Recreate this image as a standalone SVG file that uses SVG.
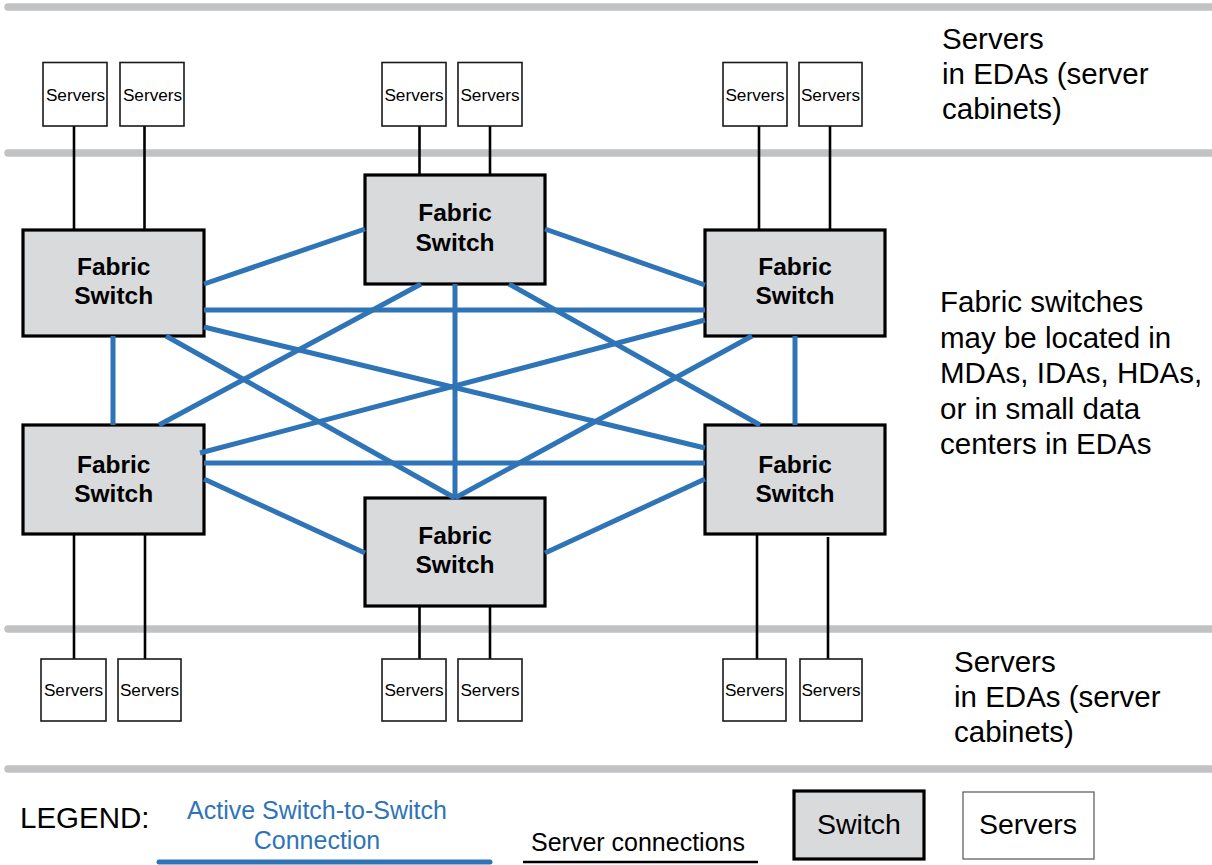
<svg xmlns="http://www.w3.org/2000/svg" width="1212" height="865" viewBox="0 0 1212 865">
  <defs>
    <style>
      .band { stroke: #c1c2c4; stroke-width: 7.5; stroke-linecap: round; fill: none; }
      .srv { fill: #ffffff; stroke: #1a1a1a; stroke-width: 1.6; }
      .sw { fill: #d9dadc; stroke: #000000; stroke-width: 3.2; }
      .srv-t { font-family: "Liberation Sans", Arial, sans-serif; font-size: 17.2px; fill: #000; text-anchor: middle; }
      .sw-t { font-family: "Liberation Sans", Arial, sans-serif; font-size: 24.5px; font-weight: bold; fill: #000; text-anchor: middle; }
      .note { font-family: "Liberation Sans", Arial, sans-serif; font-size: 29.5px; fill: #000; }
      .link { stroke: #2e74b7; stroke-width: 5; fill: none; }
      .wire { stroke: #000; stroke-width: 2.6; fill: none; }
    </style>
  </defs>
  <rect width="1212" height="865" fill="#ffffff"/>

  <!-- zone separators -->
  <g id="bands">
    <line class="band" x1="8" y1="7" x2="1220" y2="7"/>
    <line class="band" x1="8" y1="153" x2="1220" y2="153"/>
    <line class="band" x1="8" y1="629" x2="1220" y2="629"/>
    <line class="band" x1="8" y1="769" x2="1220" y2="769"/>
  </g>

  <!-- server uplinks (drawn over the bands) -->
  <g id="server-links">
    <line class="wire" x1="74" y1="126" x2="74" y2="230"/>
    <line class="wire" x1="144.5" y1="126" x2="144.5" y2="230"/>
    <line class="wire" x1="419.5" y1="126" x2="419.5" y2="175"/>
    <line class="wire" x1="490" y1="126" x2="490" y2="175"/>
    <line class="wire" x1="759" y1="126" x2="759" y2="230"/>
    <line class="wire" x1="830" y1="126" x2="830" y2="230"/>
    <line class="wire" x1="74" y1="534" x2="74" y2="659"/>
    <line class="wire" x1="145" y1="532" x2="145" y2="659"/>
    <line class="wire" x1="419.5" y1="606" x2="419.5" y2="659"/>
    <line class="wire" x1="490" y1="606" x2="490" y2="659"/>
    <line class="wire" x1="757" y1="534" x2="757" y2="659"/>
    <line class="wire" x1="828" y1="537" x2="828" y2="659"/>
  </g>

  <!-- server cabinets, top row -->
  <g id="srv-t1"><rect class="srv" x="43" y="62.5" width="64" height="63.5"/><text class="srv-t" x="75.5" y="100.5">Servers</text></g>
  <g id="srv-t2"><rect class="srv" x="120" y="62.5" width="64" height="63.5"/><text class="srv-t" x="152.5" y="100.5">Servers</text></g>
  <g id="srv-t3"><rect class="srv" x="382" y="62.5" width="64" height="63.5"/><text class="srv-t" x="414" y="100.5">Servers</text></g>
  <g id="srv-t4"><rect class="srv" x="458" y="62.5" width="64" height="63.5"/><text class="srv-t" x="490" y="100.5">Servers</text></g>
  <g id="srv-t5"><rect class="srv" x="723" y="62.5" width="64" height="63.5"/><text class="srv-t" x="755" y="100.5">Servers</text></g>
  <g id="srv-t6"><rect class="srv" x="799" y="62.5" width="63" height="63.5"/><text class="srv-t" x="830.5" y="100.5">Servers</text></g>

  <!-- server cabinets, bottom row -->
  <g id="srv-b1"><rect class="srv" x="41" y="659" width="65" height="62"/><text class="srv-t" x="73.5" y="696">Servers</text></g>
  <g id="srv-b2"><rect class="srv" x="118" y="659" width="63" height="62"/><text class="srv-t" x="149.5" y="696">Servers</text></g>
  <g id="srv-b3"><rect class="srv" x="382" y="659" width="64" height="62"/><text class="srv-t" x="414" y="696">Servers</text></g>
  <g id="srv-b4"><rect class="srv" x="458" y="659" width="64" height="62"/><text class="srv-t" x="490" y="696">Servers</text></g>
  <g id="srv-b5"><rect class="srv" x="723" y="659" width="63" height="62"/><text class="srv-t" x="754.5" y="696">Servers</text></g>
  <g id="srv-b6"><rect class="srv" x="800" y="659" width="62" height="62"/><text class="srv-t" x="831" y="696">Servers</text></g>

  <!-- fabric switches -->
  <g id="sw-tl"><rect class="sw" x="23" y="230" width="181" height="106"/><text class="sw-t" x="113.7" y="274.5">Fabric</text><text class="sw-t" x="113.7" y="304.3">Switch</text></g>
  <g id="sw-tm"><rect class="sw" x="365" y="175" width="180" height="109"/><text class="sw-t" x="455" y="221">Fabric</text><text class="sw-t" x="455" y="251">Switch</text></g>
  <g id="sw-tr"><rect class="sw" x="705" y="230" width="180" height="106"/><text class="sw-t" x="795" y="274.5">Fabric</text><text class="sw-t" x="795" y="304.3">Switch</text></g>
  <g id="sw-bl"><rect class="sw" x="23" y="425" width="181" height="109"/><text class="sw-t" x="113.7" y="473">Fabric</text><text class="sw-t" x="113.7" y="502">Switch</text></g>
  <g id="sw-bm"><rect class="sw" x="365" y="498" width="180" height="108"/><text class="sw-t" x="455" y="544">Fabric</text><text class="sw-t" x="455" y="573">Switch</text></g>
  <g id="sw-br"><rect class="sw" x="705" y="425" width="180" height="109"/><text class="sw-t" x="795" y="473">Fabric</text><text class="sw-t" x="795" y="502">Switch</text></g>

  <!-- full mesh of switch-to-switch links -->
  <g id="connectors">
    <line class="link" x1="204" y1="284" x2="365" y2="229"/>
    <line class="link" x1="204" y1="310" x2="705" y2="310"/>
    <line class="link" x1="204" y1="327" x2="705" y2="448"/>
    <line class="link" x1="166" y1="336" x2="455" y2="498"/>
    <line class="link" x1="113" y1="336" x2="113" y2="425"/>
    <line class="link" x1="421" y1="284" x2="159" y2="425"/>
    <line class="link" x1="455" y1="284" x2="455" y2="498"/>
    <line class="link" x1="509" y1="284" x2="760" y2="425"/>
    <line class="link" x1="545" y1="229" x2="705" y2="285"/>
    <line class="link" x1="705" y1="320" x2="200" y2="453"/>
    <line class="link" x1="752" y1="336" x2="455" y2="498"/>
    <line class="link" x1="795" y1="336" x2="795" y2="425"/>
    <line class="link" x1="204" y1="463" x2="705" y2="463"/>
    <line class="link" x1="204" y1="479" x2="365" y2="553"/>
    <line class="link" x1="705" y1="479" x2="545" y2="553"/>
  </g>

  <!-- side notes -->
  <g id="note-top">
    <text class="note" x="942" y="49">Servers</text>
    <text class="note" x="942" y="84">in EDAs (server</text>
    <text class="note" x="942" y="119">cabinets)</text>
  </g>
  <g id="note-mid">
    <text class="note" x="940" y="312">Fabric switches</text>
    <text class="note" x="940" y="347.5">may be located in</text>
    <text class="note" x="940" y="383">MDAs, IDAs, HDAs,</text>
    <text class="note" x="940" y="418.5">or in small data</text>
    <text class="note" x="940" y="454">centers in EDAs</text>
  </g>
  <g id="note-bottom">
    <text class="note" x="954" y="672">Servers</text>
    <text class="note" x="954" y="707">in EDAs (server</text>
    <text class="note" x="954" y="742">cabinets)</text>
  </g>

  <!-- legend -->
  <g id="legend">
    <text class="note" x="20" y="828">LEGEND:</text>
    <text x="317" y="819" font-family="Liberation Sans, Arial, sans-serif" font-size="25" fill="#2e74b7" text-anchor="middle">Active Switch-to-Switch</text>
    <text x="317" y="849" font-family="Liberation Sans, Arial, sans-serif" font-size="25" fill="#2e74b7" text-anchor="middle">Connection</text>
    <line x1="159" y1="862" x2="490" y2="862" stroke="#2e74b7" stroke-width="5" stroke-linecap="round"/>
    <text x="638" y="851" font-family="Liberation Sans, Arial, sans-serif" font-size="25" fill="#000" text-anchor="middle">Server connections</text>
    <line x1="523" y1="862" x2="758" y2="862" stroke="#000" stroke-width="2.6"/>
    <g id="legend-switch"><rect class="sw" x="794" y="791" width="130" height="68"/><text x="859" y="834" font-family="Liberation Sans, Arial, sans-serif" font-size="28.5" fill="#000" text-anchor="middle">Switch</text></g>
    <g id="legend-servers"><rect x="963" y="792" width="131" height="67" fill="#fff" stroke="#555" stroke-width="1.2"/><text x="1028" y="834" font-family="Liberation Sans, Arial, sans-serif" font-size="28.5" fill="#000" text-anchor="middle">Servers</text></g>
  </g>
</svg>
